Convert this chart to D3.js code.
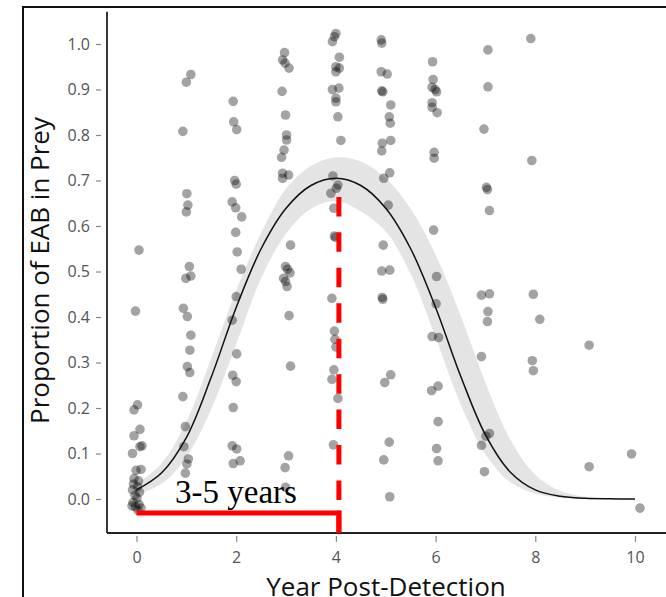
<!DOCTYPE html>
<html>
<head>
<meta charset="utf-8">
<script src="https://cdn.jsdelivr.net/npm/d3@7"></script>
<style>
  html, body { margin: 0; padding: 0; background: #fff; }
  svg { display: block; }
</style>
</head>
<body>
<svg id="chart" width="666" height="597"></svg>
<script>
// ---------------- data ----------------
const xTicks = [0, 2, 4, 6, 8, 10];
const yTicks = [0.0, 0.1, 0.2, 0.3, 0.4, 0.5, 0.6, 0.7, 0.8, 0.9, 1.0];
const xTitle = "Year Post-Detection";
const yTitle = "Proportion of EAB in Prey";
const annotation = "3-5 years";
const markYear = 4.06;      // red marker year
const markValue = 0.664;    // top of red dashed line
const baseValue = -0.031;   // red horizontal line level

// observed points (jittered year, proportion)
const pointYear = [
  // year 0
  0.05,-0.02,0.02,-0.05,0.07,-0.05,0.11,0.07,-0.08,0.09,-0.01,-0.05,0.04,-0.06,0.02,-0.08,0.06,-0.03,0.01,-0.07,0.05,-0.02,0.09,-0.09,0.03,
  // year 1
  1.09,1.0,0.93,1.01,1.03,1.0,1.06,0.99,1.09,0.94,1.02,1.09,1.07,1.02,1.07,0.93,0.98,0.95,1.04,1.01,0.98,
  // year 2
  1.94,1.95,2.01,1.97,2.0,1.92,1.99,2.11,1.99,2.02,2.10,2.0,1.92,2.01,1.93,2.0,1.94,1.92,2.01,1.94,2.08,
  // year 3
  2.97,2.93,2.98,3.06,2.92,2.99,3.01,3.01,2.96,2.91,2.93,3.05,2.93,3.09,2.99,3.03,3.08,2.95,2.99,3.02,3.06,3.09,3.05,2.98,2.99,
  // year 4
  4.0,3.97,3.93,4.07,4.0,4.07,4.0,3.93,4.06,4.0,4.0,4.04,4.10,3.94,4.04,4.01,3.90,3.96,3.97,3.99,3.92,3.97,3.98,4.0,3.96,3.92,4.04,3.95,
  // year 5
  4.91,4.92,4.91,5.03,4.92,4.94,5.10,5.07,5.09,5.10,4.93,4.92,5.08,4.96,5.05,4.95,4.92,5.08,4.93,4.94,5.10,4.98,5.07,4.96,5.08,
  // year 6
  5.94,5.95,5.93,6.02,5.99,5.93,5.93,6.03,5.97,5.97,5.96,6.02,6.01,5.93,6.06,5.92,6.05,6.05,6.02,6.05,
  // year 7
  7.05,7.05,6.97,7.02,7.04,7.08,6.92,7.08,7.05,7.04,6.92,7.08,7.01,6.92,6.98,
  // year 8
  7.91,7.93,7.96,8.09,7.94,7.96,
  // year 9
  9.08,9.08,
  // year 10
  9.93,10.1
];
const pointValue = [
  // year 0
  0.547,0.413,0.207,0.196,0.153,0.139,0.117,0.115,0.100,0.065,0.063,0.045,0.040,0.033,0.027,0.020,0.015,0.008,0.002,-0.008,-0.012,-0.017,-0.020,-0.015,-0.025,
  // year 1
  0.933,0.916,0.808,0.671,0.646,0.631,0.511,0.485,0.490,0.419,0.401,0.360,0.327,0.291,0.278,0.225,0.159,0.115,0.088,0.077,0.057,
  // year 2
  0.874,0.829,0.812,0.700,0.692,0.653,0.640,0.620,0.586,0.543,0.505,0.445,0.393,0.319,0.272,0.258,0.201,0.117,0.110,0.078,0.084,
  // year 3
  0.981,0.965,0.958,0.947,0.896,0.844,0.800,0.789,0.767,0.751,0.716,0.712,0.705,0.558,0.511,0.505,0.497,0.485,0.478,0.467,0.403,0.292,0.095,0.069,0.026,
  // year 4
  1.023,1.016,1.005,0.971,0.950,0.947,0.939,0.900,0.903,0.881,0.873,0.840,0.788,0.710,0.690,0.683,0.672,0.639,0.578,0.575,0.441,0.369,0.351,0.334,0.284,0.263,0.221,0.119,
  // year 5
  1.009,1.002,0.939,0.934,0.897,0.895,0.866,0.840,0.826,0.788,0.782,0.765,0.717,0.705,0.646,0.558,0.501,0.503,0.443,0.439,0.273,0.256,0.125,0.086,0.005,
  // year 6
  0.961,0.922,0.905,0.895,0.900,0.871,0.861,0.849,0.762,0.749,0.591,0.489,0.429,0.357,0.355,0.238,0.248,0.170,0.111,0.084,
  // year 7
  0.987,0.906,0.813,0.685,0.680,0.634,0.448,0.451,0.412,0.390,0.313,0.144,0.138,0.118,0.060,
  // year 8
  1.012,0.744,0.450,0.395,0.304,0.282,
  // year 9
  0.338,0.071,
  // year 10
  0.099,-0.020
];

// fitted curve and confidence band, read at half-year steps
const fitYear  = [0,0.5,1,1.5,2,2.5,3,3.5,4,4.5,5,5.5,6,6.5,7,7.5,8,8.5,9,9.5,10];
const fitValue = [0.020,0.057,0.135,0.268,0.421,0.550,0.639,0.689,0.705,0.689,0.639,0.550,0.421,0.271,0.141,0.059,0.020,0.006,0.0015,0.0004,0.0001];
const fitUpper = [0.032,0.078,0.170,0.310,0.458,0.585,0.682,0.732,0.751,0.742,0.705,0.638,0.537,0.404,0.256,0.130,0.053,0.018,0.005,0.0012,0.0003];
const fitLower = [0.010,0.033,0.092,0.198,0.340,0.485,0.583,0.638,0.655,0.632,0.588,0.495,0.355,0.209,0.098,0.037,0.012,0.003,0.0005,0.0001,0.0000];

// ---------------- drawing ----------------
const svg = d3.select("#chart");
const W = 666, H = 597;

const x = d3.scaleLinear().domain([0, 10]).range([136.5, 635]);
const y = d3.scaleLinear().domain([-0.0747, 1.071]).range([533, 11.7]);

// outer figure frame (cropped)
svg.append("path")
  .attr("d", `M23,${H} L23,7 L${W},7`)
  .attr("fill", "none").attr("stroke", "#111").attr("stroke-width", 2);

const fit = fitYear.map((d, i) => ({ x: d, v: fitValue[i], lo: fitLower[i], hi: fitUpper[i] }));
const smooth = d3.curveCatmullRom.alpha(0.5);

// confidence ribbon
svg.append("path")
  .datum(fit)
  .attr("d", d3.area().x(d => x(d.x)).y0(d => y(d.lo)).y1(d => y(d.hi)).curve(smooth))
  .attr("fill", "#e4e4e4");

// points
const pts = pointYear.map((d, i) => ({ x: d, v: pointValue[i] }));
svg.append("g").selectAll("circle").data(pts).enter().append("circle")
  .attr("cx", d => x(d.x)).attr("cy", d => y(d.v)).attr("r", 4.8)
  .attr("fill", "#000").attr("fill-opacity", 0.36);

// fitted line
svg.append("path")
  .datum(fit)
  .attr("d", d3.line().x(d => x(d.x)).y(d => y(d.v)).curve(smooth))
  .attr("fill", "none").attr("stroke", "#111").attr("stroke-width", 1.5);

// axis lines
const yDom = y.domain();
svg.append("line")
  .attr("x1", 107).attr("x2", 107)
  .attr("y1", y(yDom[1])).attr("y2", y(yDom[0]))
  .attr("stroke", "#222").attr("stroke-width", 1.8);
svg.append("line")
  .attr("x1", 107).attr("x2", W)
  .attr("y1", y(yDom[0])).attr("y2", y(yDom[0]))
  .attr("stroke", "#222").attr("stroke-width", 1.8);

// y axis ticks + labels
const yAxis = svg.append("g")
  .attr("transform", "translate(101,0)")
  .call(d3.axisLeft(y).tickValues(yTicks).tickFormat(d3.format(".1f")).tickSize(5).tickPadding(6));
yAxis.select(".domain").remove();
yAxis.selectAll(".tick line").attr("stroke", "#888").attr("stroke-width", 1.2);
yAxis.selectAll(".tick text")
  .attr("fill", "#555").style("font-family", "'Open Sans', sans-serif").style("font-size", "16px");

// x axis ticks + labels
const xAxis = svg.append("g")
  .attr("transform", `translate(0,${y(yDom[0]) + 3})`)
  .call(d3.axisBottom(x).tickValues(xTicks).tickFormat(d3.format("d")).tickSize(6).tickPadding(10));
xAxis.select(".domain").remove();
xAxis.selectAll(".tick line").attr("stroke", "#888").attr("stroke-width", 1.2);
xAxis.selectAll(".tick text")
  .attr("fill", "#555").style("font-family", "'Open Sans', sans-serif").style("font-size", "16px");

// axis titles
svg.append("text")
  .attr("x", 386).attr("y", 596)
  .attr("text-anchor", "middle")
  .style("font-family", "'Open Sans', sans-serif").style("font-size", "26px")
  .attr("fill", "#111")
  .text(xTitle);
svg.append("text")
  .attr("transform", "translate(49,270.5) rotate(-90)")
  .attr("text-anchor", "middle")
  .style("font-family", "'Open Sans', sans-serif").style("font-size", "26px")
  .attr("fill", "#111")
  .text(yTitle);

// red annotation lines
svg.append("line")
  .attr("x1", x(markYear)).attr("x2", x(markYear))
  .attr("y1", y(markValue)).attr("y2", y(yDom[0]))
  .attr("stroke", "#ff0000").attr("stroke-width", 5)
  .attr("stroke-dasharray", "19.5,15.95");
svg.append("path")
  .attr("d", `M${x(0)},${y(baseValue)} L${x(markYear) + 2.5},${y(baseValue)}`)
  .attr("fill", "none").attr("stroke", "#ff0000").attr("stroke-width", 5);
svg.append("line")
  .attr("x1", x(markYear)).attr("x2", x(markYear))
  .attr("y1", y(baseValue) - 2.5).attr("y2", y(yDom[0]))
  .attr("stroke", "#ff0000").attr("stroke-width", 5);

// annotation text
svg.append("text")
  .attr("x", 175).attr("y", 503)
  .style("font-family", "'Liberation Serif', 'Times New Roman', serif").style("font-size", "33px")
  .attr("fill", "#000")
  .text(annotation);
</script>
</body>
</html>
